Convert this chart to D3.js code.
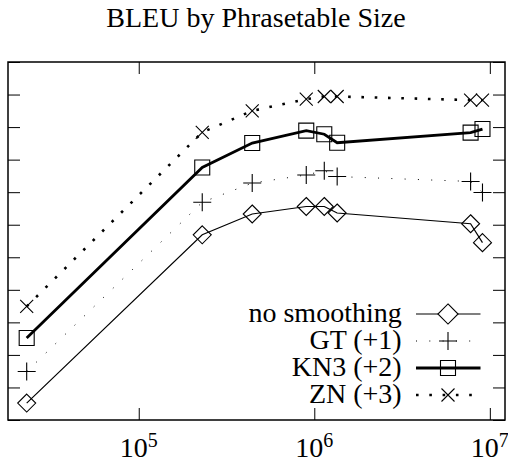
<!DOCTYPE html>
<html>
<head>
<meta charset="utf-8">
<script src="https://cdn.jsdelivr.net/npm/d3@7"></script>
<style>
  body { margin: 0; background: #fff; }
  svg text { font-family: "Liberation Serif", "Times New Roman", Times, serif; fill: #000; }
</style>
</head>
<body>
<script>
// phrasetable sizes (x) and BLEU per smoothing method (offsets already added)
const sizes = [23000, 230000, 443000, 900000, 1140000, 1350000, 7770000, 9080000];
const noSmoothing = [19.52, 24.69, 25.33, 25.56, 25.56, 25.36, 25.03, 24.45];
const gt = [20.49, 25.69, 26.28, 26.53, 26.66, 26.48, 26.33, 25.99];
const kn3 = [21.52, 26.76, 27.51, 27.89, 27.78, 27.52, 27.83, 27.94];
const zn = [22.49, 27.84, 28.50, 28.86, 28.94, 28.94, 28.83, 28.83];
const seriesNames = ["no smoothing", "GT (+1)", "KN3 (+2)", "ZN (+3)"];
const xTicks = [1e5, 1e6, 1e7];
const xTickExp = ["5", "6", "7"];
const yTicks = d3.range(19, 31, 1);

const W = 508, H = 461;
const margin = {top: 62, right: 3, bottom: 41, left: 8};
const width = W - margin.left - margin.right;
const height = H - margin.top - margin.bottom;

const svg = d3.select("body").append("svg")
    .attr("width", W)
    .attr("height", H);

// title
svg.append("text")
    .attr("x", 256)
    .attr("y", 27)
    .attr("text-anchor", "middle")
    .style("font-size", "28px")
    .text("BLEU by Phrasetable Size");

const g = svg.append("g")
    .attr("transform", `translate(${margin.left},${margin.top})`);

const x = d3.scaleLog().domain([18000, 1.22e7]).range([0, width]);
const y = d3.scaleLinear().domain([19, 30]).range([height, 0]);

// inward ticks on all four sides
const tick = 12;
g.append("g").attr("class", "axis")
    .attr("transform", `translate(0,${height})`)
    .call(d3.axisBottom(x).tickValues(xTicks).tickSize(-tick).tickFormat(""));
g.append("g").attr("class", "axis")
    .call(d3.axisTop(x).tickValues(xTicks).tickSize(-tick).tickFormat(""));
g.append("g").attr("class", "axis")
    .call(d3.axisLeft(y).tickValues(yTicks).tickSize(-tick).tickFormat(""));
g.append("g").attr("class", "axis")
    .attr("transform", `translate(${width},0)`)
    .call(d3.axisRight(y).tickValues(yTicks).tickSize(-tick).tickFormat(""));
g.selectAll(".axis .domain").remove();
g.selectAll(".axis line").attr("stroke", "#000").attr("stroke-width", 1);

// frame
g.append("rect")
    .attr("width", width)
    .attr("height", height)
    .attr("fill", "none")
    .attr("stroke", "#000")
    .attr("stroke-width", 1.5);

// x tick labels 10^n
const lab = g.selectAll(".xlab").data(xTicks).enter().append("text")
    .attr("class", "xlab")
    .attr("x", d => x(d))
    .attr("y", height + 37)
    .attr("text-anchor", "middle")
    .style("font-size", "28px");
lab.append("tspan").text("10");
lab.append("tspan")
    .attr("dy", -10)
    .style("font-size", "20px")
    .text((d, i) => xTickExp[i]);

// series definitions
const series = [
  {name: seriesNames[0], values: noSmoothing, width: 1.2, dash: null, marker: "diamond"},
  {name: seriesNames[1], values: gt, width: 1, dash: "1,12.3", marker: "plus"},
  {name: seriesNames[2], values: kn3, width: 2.8, dash: null, marker: "square"},
  {name: seriesNames[3], values: zn, width: 2.6, dash: "2.6,10.7", marker: "cross"}
];

function markerPath(type, k) {
  k = k || 1;
  if (type === "diamond") return `M0,${-9 * k}L${9 * k},0L0,${9 * k}L${-9 * k},0Z`;
  if (type === "plus") return "M-9,0H9M0,-9V9";
  if (type === "square") return "M-7.5,-7.5H7.5V7.5H-7.5Z";
  return "M-6.5,-6.5L6.5,6.5M-6.5,6.5L6.5,-6.5";
}

const line = d3.line()
    .x(d => x(d[0]))
    .y(d => y(d[1]));

series.forEach(s => {
  const pts = sizes.map((v, i) => [v, s.values[i]]);
  g.append("path")
      .datum(pts)
      .attr("d", line)
      .attr("fill", "none")
      .attr("stroke", "#000")
      .attr("stroke-width", s.width)
      .attr("stroke-dasharray", s.dash);
  g.selectAll(null).data(pts).enter().append("path")
      .attr("transform", d => `translate(${x(d[0])},${y(d[1])})`)
      .attr("d", markerPath(s.marker))
      .attr("fill", "none")
      .attr("stroke", "#000")
      .attr("stroke-width", 1.1);
});

// legend
const legend = svg.append("g").attr("class", "legend");
series.forEach((s, i) => {
  const ly = 314 + i * 27;
  legend.append("text")
      .attr("x", 401.7)
      .attr("y", ly + 7.5)
      .attr("text-anchor", "end")
      .style("font-size", "28px")
      .text(s.name);
  legend.append("line")
      .attr("x1", 416).attr("x2", 480.5)
      .attr("y1", ly).attr("y2", ly)
      .attr("stroke", "#000")
      .attr("stroke-width", s.width)
      .attr("stroke-dasharray", s.dash);
  legend.append("path")
      .attr("transform", `translate(448,${ly})`)
      .attr("d", markerPath(s.marker, 1.12))
      .attr("fill", s.marker === "diamond" ? "#fff" : "none")
      .attr("stroke", "#000")
      .attr("stroke-width", 1.1);
});
</script>
</body>
</html>
